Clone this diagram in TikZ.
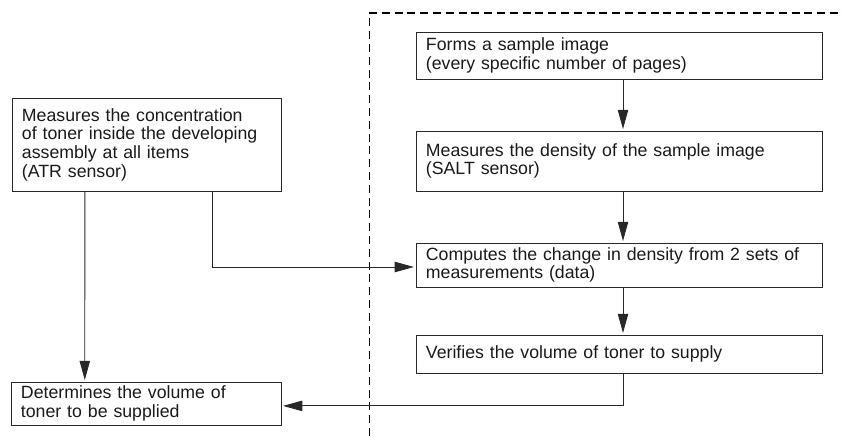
\documentclass[tikz,border=0pt]{standalone}
\usepackage{fontspec}
\setmainfont{Liberation Sans}
\usepackage{tikz}
\usetikzlibrary{arrows.meta, positioning}
\definecolor{Linea}{RGB}{40, 40, 40}

\begin{document}
\begin{tikzpicture}[
        x=0.025cm, y=-0.025cm,
        box/.style={
            rectangle,
            draw=Linea,
            line width=0.6pt,
            inner xsep=0.25cm,
            inner ysep=0pt,
            align=left,
            text=black!90,
            font=\fontsize{12.6}{13.3}\selectfont
        },
        rbox/.style={
            box,
            text width=9.65cm,
            minimum width=10.15cm
        },
        arrow/.style={
            -{Triangle[length=0.48cm, width=0.26cm]},
            line width=0.6pt,
            draw=Linea,
            shorten >=0.04cm
        },
        dashline/.style={
            line width=1pt,
            dash pattern=on 0.2cm off 0.12cm
        }
    ]
        \useasboundingbox (0,0) rectangle (843,436);

        % Dashed border of the sample image side
        \draw[dashline] (369.5,436) -- (369.5,13) -- (843,13);

        % Left column
        \node[box, text width=6.225cm, minimum width=6.725cm, minimum height=2.325cm] (atr) at (146.5, 144.5) {Measures the concentration\\of toner inside the developing\\assembly at all items\\(ATR sensor)};
        \node[box, text width=6.25cm, minimum width=6.75cm, minimum height=1.075cm] (det) at (146, 403.5) {Determines the volume of\\toner to be supplied};

        % Right column
        \node[rbox, minimum height=1.175cm] (form) at (619, 55.5) {Forms a sample image\\(every specific number of pages)};
        \node[rbox, minimum height=1.5cm] (dens) at (619, 161) {Measures the density of the sample image\\(SALT sensor)};
        \node[rbox, minimum height=1.1cm] (comp) at (619, 265) {Computes the change in density from 2 sets of\\measurements (data)};
        \node[rbox, minimum height=0.95cm] (verif) at (619, 354) {Verifies the volume of toner to supply};

        % Arrows
        \draw[arrow] ([xshift=0.1cm]form.south) -- ([xshift=0.1cm]dens.north);
        \draw[arrow] ([xshift=0.1cm]dens.south) -- ([xshift=0.1cm]comp.north);
        \draw[arrow] ([xshift=0.1cm]comp.south) -- ([xshift=0.1cm]verif.north);
        \draw[arrow] ([xshift=1.64cm]atr.south) |- ([yshift=-0.05cm]comp.west);
        \draw[arrow] ([xshift=-1.54cm]atr.south) -- ([xshift=-1.53cm]det.north);
        \draw[arrow] ([xshift=0.1cm]verif.south) |- ([yshift=-0.06cm]det.east);
    \end{tikzpicture}
\end{document}
